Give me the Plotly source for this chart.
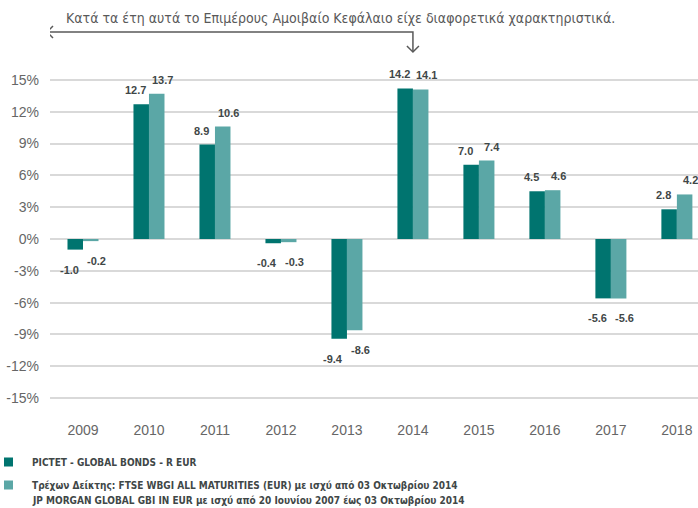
import plotly.graph_objects as go

years = ["2009", "2010", "2011", "2012", "2013", "2014", "2015", "2016", "2017", "2018"]
fund = [-1.0, 12.7, 8.9, -0.4, -9.4, 14.2, 7.0, 4.5, -5.6, 2.8]
bench = [-0.2, 13.7, 10.6, -0.3, -8.6, 14.1, 7.4, 4.6, -5.6, 4.2]
fund_name = "PICTET - GLOBAL BONDS - R EUR"
bench_lines = ["Τρέχων Δείκτης: FTSE WBGI ALL MATURITIES (EUR) με ισχύ από 03 Οκτωβρίου 2014",
               "JP MORGAN GLOBAL GBI IN EUR με ισχύ από 20 Ιουνίου 2007 έως 03 Οκτωβρίου 2014"]
note = "Κατά τα έτη αυτά το Επιμέρους Αμοιβαίο Κεφάλαιο είχε διαφορετικά χαρακτηριστικά."
ytick_vals = [-15, -12, -9, -6, -3, 0, 3, 6, 9, 12, 15]
ytick_text = [f"{v}%" for v in ytick_vals]

DARK = "#00746F"
LIGHT = "#5BA7A6"
TXT = "#3F4747"
GRAY = "#595959"
NARROW = "Liberation Sans Narrow, Arial Narrow, DejaVu Sans Condensed, sans-serif"

W, H = 698, 508
ML, MR, MT, MB = 50, 0, 64, 94
XR = [-0.5, 9.32]
YR = [-16.5, 16.5]
pw = W - ML - MR
ph = H - MT - MB
px_per_cat = pw / (XR[1] - XR[0])


def py2paper(py):
    return (H - MB - py) / ph


def px2paper(px):
    return (px - ML) / pw


fig = go.Figure()
fig.add_trace(go.Bar(x=years, y=fund, name=fund_name, marker_color=DARK, marker_line_width=0,
                     showlegend=False))
fig.add_trace(go.Bar(x=years, y=bench, name="<br>".join(bench_lines), marker_color=LIGHT,
                     marker_line_width=0, showlegend=False))

# value labels
anns = []
for vals, sgn in ((fund, -1), (bench, 1)):
    for i, v in enumerate(vals):
        anns.append(dict(x=i, y=v, xref="x", yref="y", text=f"{v:.1f}", showarrow=False,
                         xshift=sgn * 13.5, yshift=14 if v >= 0 else -20,
                         font=dict(family="Liberation Sans, Arial, sans-serif", size=11, color=TXT,
                                   weight="bold")))

# top note
anns.append(dict(x=px2paper((68 + 613) / 2), y=py2paper(18), xref="paper", yref="paper",
                 text=note, showarrow=False, xanchor="center", yanchor="middle",
                 font=dict(family=NARROW, size=14, color=GRAY)))

shapes = []
# gaps in the gridlines between categories
gap = 3 / px_per_cat
for i in range(len(years) + 1):
    b = i - 0.5
    shapes.append(dict(type="rect", xref="x", yref="paper", x0=b - gap, x1=b + gap, y0=-0.02, y1=1.02,
                       fillcolor="white", line_width=0, layer="between"))

# arrow for period before benchmark change
i2014 = years.index("2014")
ya = py2paper(32)
yb = py2paper(52)
xl = -0.5 - 3 / px_per_cat
ch = 6 / px_per_cat
chy = 6 / ph
line = dict(color=GRAY, width=1.5)
shapes.append(dict(type="path", xref="x", yref="paper",
                   path=f"M {i2014},{yb} L {i2014},{ya} L {xl},{ya}", line=line))
shapes.append(dict(type="path", xref="x", yref="paper",
                   path=f"M {xl + ch},{ya + chy} L {xl},{ya} L {xl + ch},{ya - chy}", line=line))
shapes.append(dict(type="path", xref="x", yref="paper",
                   path=f"M {i2014 - ch},{yb + chy} L {i2014},{yb} L {i2014 + ch},{yb + chy}", line=line))

# legend (drawn manually: swatches + labels)
leg_font = dict(family=NARROW, size=10, color=TXT, weight="bold")
legend_rows = [(DARK, [fund_name], 462), (LIGHT, bench_lines, 485)]
for color, lines, yc in legend_rows:
    shapes.append(dict(type="rect", xref="paper", yref="paper",
                       x0=px2paper(4), x1=px2paper(13), y0=py2paper(yc - 4.5), y1=py2paper(yc + 4.5),
                       fillcolor=color, line_width=0))
    for k, t in enumerate(lines):
        anns.append(dict(x=px2paper(30), y=py2paper(yc + k * 15.5), xref="paper", yref="paper",
                         text=t, showarrow=False, xanchor="left", yanchor="middle", font=leg_font))

fig.update_layout(
    width=W, height=H,
    margin=dict(l=ML, r=MR, t=MT, b=MB, autoexpand=False),
    paper_bgcolor="white", plot_bgcolor="white",
    barmode="group", bargap=0.53, bargroupgap=0,
    showlegend=False,
    xaxis=dict(type="category", range=XR, showgrid=False, zeroline=False, showline=False, ticks="",
               tickfont=dict(family="Liberation Sans, Arial, sans-serif", size=14, color="#666666"),
               ticklabelstandoff=6),
    yaxis=dict(range=YR, tickvals=ytick_vals, ticktext=ytick_text, showgrid=True,
               gridcolor="#D9D9D9", gridwidth=1.5, zeroline=False, showline=False, ticks="",
               tickfont=dict(family="Liberation Sans, Arial, sans-serif", size=14, color="#666666"),
               ticklabelstandoff=10),
    annotations=anns,
    shapes=shapes,
)

fig.write_html("out.html", config={"displayModeBar": False},
               post_script="document.body.style.margin='0';document.body.style.overflow='hidden';")
